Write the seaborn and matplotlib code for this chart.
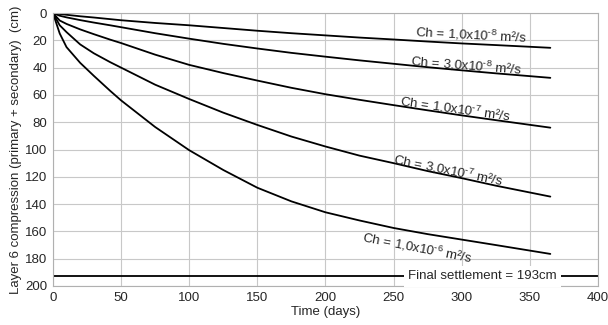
import seaborn as sns
import matplotlib.pyplot as plt
import pandas as pd

# time in days
days = [0, 5, 10, 20, 30, 42, 50, 75, 100, 125, 150, 175, 200, 225, 250, 275, 300, 325, 365]

# compression (cm) for each Ch value
ch_1e8 = [0, 0.7, 1.3, 2.4, 3.3, 4.5, 5.3, 7.3, 9.0, 11.0, 13.0, 14.8, 16.4, 18.0, 19.4, 20.9, 22.3, 23.5, 25.5]
ch_3e8 = [0, 2.0, 3.2, 5.2, 7.0, 9.0, 10.4, 14.8, 18.8, 22.6, 26.0, 29.2, 32.0, 34.7, 37.2, 39.7, 42.0, 44.2, 47.5]
ch_1e7 = [0, 5.5, 8.0, 12.0, 15.5, 19.5, 22.0, 30.5, 38.0, 44.0, 49.5, 54.8, 59.5, 63.6, 67.5, 71.3, 75.0, 78.5, 84.0]
ch_3e7 = [0, 9.0, 14.0, 23.0, 29.5, 36.0, 40.0, 52.5, 63.0, 73.0, 82.0, 90.5, 97.8, 104.5, 110.0, 115.8, 121.0, 126.5, 134.5]
ch_1e6 = [0, 15.0, 25.0, 36.5, 46.0, 57.0, 64.0, 83.5, 100.5, 115.0, 128.0, 138.0, 146.0, 152.0, 157.5, 162.0, 166.0, 170.0, 176.5]

series_names = ["1e-8", "3e-8", "1e-7", "3e-7", "1e-6"]
labels = [r"Ch = 1,0x10$^{\text{-8}}$ m²/s", r"Ch = 3,0x10$^{\text{-8}}$ m²/s", r"Ch = 1,0x10$^{\text{-7}}$ m²/s",
          r"Ch = 3,0x10$^{\text{-7}}$ m²/s", r"Ch = 1,0x10$^{\text{-6}}$ m²/s"]

final_days = [0, 400]
final_settlement = [193, 193]

frames = []
for name, vals in zip(series_names, [ch_1e8, ch_3e8, ch_1e7, ch_3e7, ch_1e6]):
    frames.append(pd.DataFrame({"days": days, "cm": vals, "ch": name}))
df = pd.concat(frames, ignore_index=True)

sns.set_style("white")
plt.rcParams['font.family'] = ['Liberation Sans', 'DejaVu Sans']
plt.rcParams['mathtext.fontset'] = 'custom'
plt.rcParams['mathtext.rm'] = 'Liberation Sans'
plt.rcParams['mathtext.it'] = 'Liberation Sans:italic'

fig = plt.figure(figsize=(6.08, 3.25), dpi=100)
ax = fig.add_axes([0.087, 0.12, 0.8966, 0.84])

sns.lineplot(data=df, x="days", y="cm", hue="ch", palette=["black"] * 5,
             legend=False, linewidth=1.3, ax=ax, sort=False)
ax.plot(final_days, final_settlement, color="black", linewidth=1.3)

ax.set_xlim(0, 400)
ax.set_ylim(200, 0)
ax.set_xticks(range(0, 401, 50))
ax.set_yticks(range(0, 201, 20))
ax.grid(True, color="#c8c8c8", linewidth=0.8)
for s in ax.spines.values():
    s.set_color("#b0b0b0")
    s.set_linewidth(0.8)
ax.tick_params(labelsize=9.5, length=3, color="#b0b0b0", pad=1)
ax.set_xlabel("Time (days)", fontsize=9.5, labelpad=2)
ax.set_ylabel("Layer 6 compression (primary + secondary)  (cm)", fontsize=9.5, labelpad=2)

# curve labels (data coords, rotation)
label_pos = [(307, 16, -3), (303, 38, -4.5), (295, 70, -8), (290, 115, -11.5), (267, 172, -11)]
for txt, (x, y, r) in zip(labels, label_pos):
    ax.text(x, y, txt, fontsize=9.5, rotation=r, ha="center", va="center",
            rotation_mode="anchor")

ax.text(315, 193, "Final settlement = 193cm", fontsize=9.5, ha="center", va="center",
        bbox=dict(facecolor="white", edgecolor="none", pad=3))

fig.savefig("out.png", dpi=100)
